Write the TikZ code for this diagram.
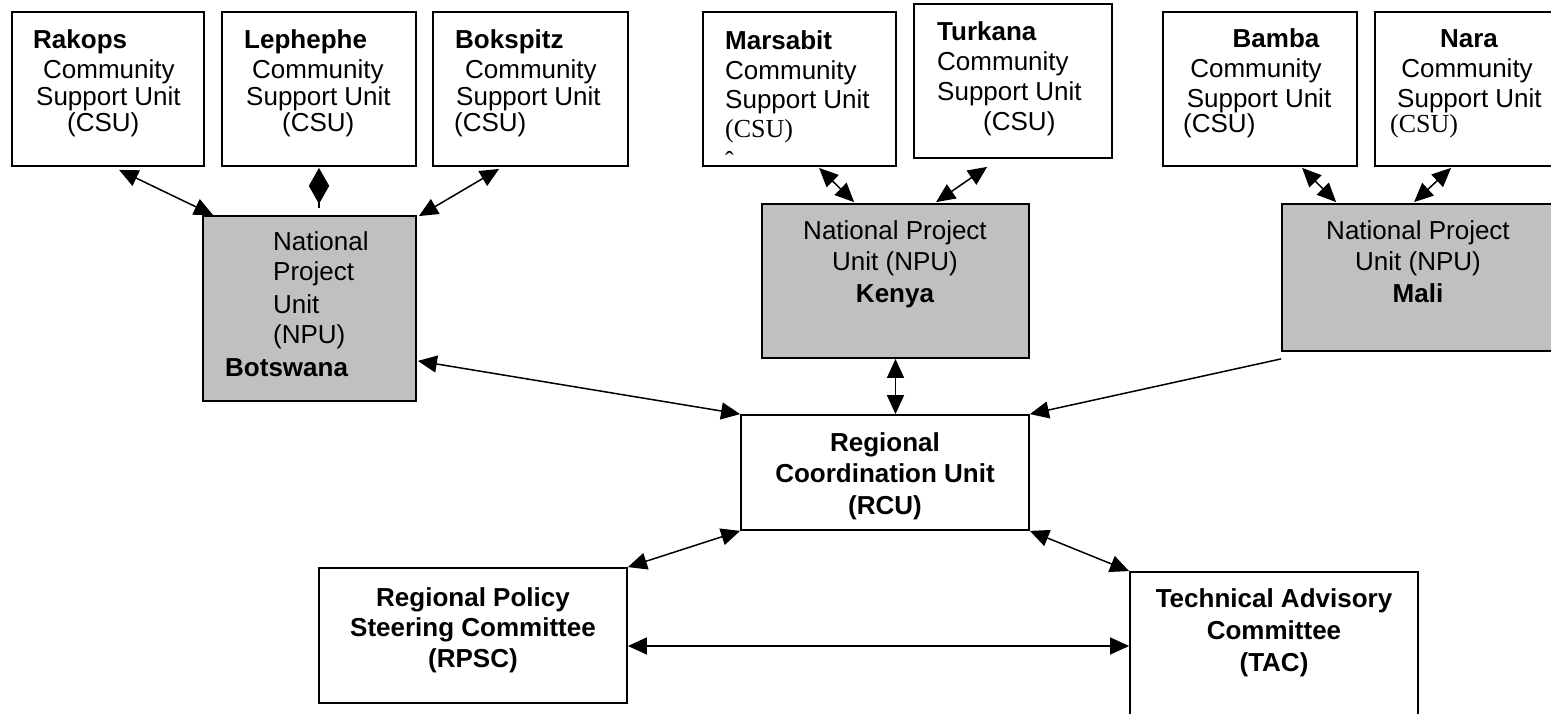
\documentclass[tikz,border=0pt]{standalone}
\usepackage{fontspec}
\setmainfont{Liberation Sans}
\newfontfamily\serifcsu{Liberation Serif}
\usetikzlibrary{arrows.meta,calc}
\definecolor{npugray}{HTML}{C0C0C0}
\begin{document}
\begin{tikzpicture}[x=1pt,y=-1pt,
  box/.style={draw,line width=1.8pt,inner sep=0pt},
  npu/.style={box,fill=npugray},
  lbl/.style={inner sep=0pt,anchor=base,font=\fontsize{26}{28}\selectfont},
  lblw/.style={lbl,anchor=base west},
  bl/.style={lbl,font=\fontsize{26}{28}\selectfont\bfseries},
  blw/.style={bl,anchor=base west},
  serw/.style={lblw,font=\fontsize{26}{28}\serifcsu},
  conn/.style={line width=1.5pt,{Triangle[length=19pt,width=17pt]}-{Triangle[length=19pt,width=17pt]}},
  diam/.style={line width=1.5pt,{Triangle[length=18pt,width=20pt]}-{Triangle[length=18pt,width=20pt]}},
  oneway/.style={line width=1.5pt,-{Triangle[length=19pt,width=17pt]}}
]
\useasboundingbox (0,0) rectangle (1551,714);
\clip (0,0) rectangle (1551,714);

% ---- CSU boxes ----
\node[box,minimum width=192pt,minimum height=154pt] (rak) at (108,89) {};
\node[box,minimum width=194pt,minimum height=154pt] (lep) at (319,89) {};
\node[box,minimum width=195pt,minimum height=154pt] (bok) at (530.5,89) {};
\node[box,minimum width=193pt,minimum height=154pt] (mar) at (799.5,89) {};
\node[box,minimum width=198pt,minimum height=154pt] (tur) at (1013,81) {};
\node[box,minimum width=194pt,minimum height=154pt] (bam) at (1260,89) {};
\node[box,minimum width=185pt,minimum height=154pt] (nar) at (1467.5,89) {};

% ---- NPU boxes ----
\node[npu,minimum width=213pt,minimum height=185pt] (bot) at (309.5,308.5) {};
\node[npu,minimum width=267pt,minimum height=154pt] (ken) at (895.5,281) {};
\node[npu,minimum width=271pt,minimum height=147pt] (mal) at (1417.5,277.5) {};

% ---- regional boxes ----
\node[box,minimum width=288pt,minimum height=115pt] (rcu) at (885,472.5) {};
\node[box,minimum width=308pt,minimum height=135pt] (rpsc) at (473,635.5) {};
\node[box,minimum width=288pt,minimum height=158pt] (tac) at (1274,651) {};

% ---- CSU texts ----
\node[blw] at (33,49) {Rakops};
\node[lblw] at (43,79) {Community};
\node[lblw] at (36,106) {Support Unit};
\node[lblw] at (67,132) {(CSU)};

\node[blw] at (244,49) {Lephephe};
\node[lblw] at (252,79) {Community};
\node[lblw] at (246,106) {Support Unit};
\node[lblw] at (282,132) {(CSU)};

\node[blw] at (455,49) {Bokspitz};
\node[lblw] at (465,79) {Community};
\node[lblw] at (456,106) {Support Unit};
\node[lblw] at (454,132) {(CSU)};

\node[blw] at (725,50) {Marsabit};
\node[lblw] at (725,80) {Community};
\node[lblw] at (725,109) {Support Unit};
\node[serw] at (725,138) {(CSU)};
\begin{scope}
  \clip (mar.north west) rectangle ($(mar.south east)+(0,-2)$);
  \node[serw] at (725,170) {ˆ};
\end{scope}

\node[blw] at (937,41) {Turkana};
\node[lblw] at (937,71) {Community};
\node[lblw] at (937,101) {Support Unit};
\node[lblw] at (983,131) {(CSU)};

\node[bl] at (1276,48) {Bamba};
\node[lbl] at (1256,78) {Community};
\node[lbl] at (1259,108) {Support Unit};
\node[lblw] at (1183,133) {(CSU)};

\node[bl] at (1469,48) {Nara};
\node[lbl] at (1467,78) {Community};
\node[lblw] at (1397,108) {Support Unit};
\node[serw] at (1390,133) {(CSU)};

% ---- NPU texts ----
\node[lblw] at (273,251) {National};
\node[lblw] at (273,281) {Project};
\node[lblw] at (273,313) {Unit};
\node[lblw] at (273,343) {(NPU)};
\node[blw] at (225,376) {Botswana};

\node[lbl] at (895,240) {National Project};
\node[lbl] at (895,271) {Unit (NPU)};
\node[bl] at (895,302) {Kenya};

\node[lbl] at (1418,240) {National Project};
\node[lbl] at (1418,271) {Unit (NPU)};
\node[bl] at (1418,302) {Mali};

% ---- regional texts ----
\node[bl] at (885,451) {Regional};
\node[bl] at (885,482) {Coordination Unit};
\node[bl] at (885,514) {(RCU)};

\node[bl] at (473,606) {Regional Policy};
\node[bl] at (473,636) {Steering Committee};
\node[bl] at (473,667) {(RPSC)};

\node[bl] at (1274,607) {Technical Advisory};
\node[bl] at (1274,639) {Committee};
\node[bl] at (1274,671) {(TAC)};

% ---- connectors ----
\draw[conn] ($(rak.south west)+(108,3)$) -- ($(bot.north west)+(11,0)$);
\draw[line width=1.5pt] ($(lep.south)+(0,30)$) -- ($(lep.south)+(0,41)$);
\draw[diam] ($(lep.south)+(0,1)$) -- ($(lep.south)+(0,37)$);
\draw[conn] ($(bok.south west)+(67,2)$) -- ($(bot.north east)+(2,1)$);
\draw[conn] ($(mar.south west)+(117,1)$) -- ($(ken.north west)+(93,-1)$);
\draw[conn] ($(tur.south west)+(74,8)$) -- ($(ken.north west)+(175,-1)$);
\draw[conn] ($(bam.south west)+(140,1)$) -- ($(mal.north west)+(55,-1)$);
\draw[conn] ($(nar.south west)+(77,1)$) -- ($(mal.north west)+(133,-1)$);
\draw[conn] ($(bot.south east)+(1,-41)$) -- (rcu.north west);
\draw[conn] (ken.south) -- (ken.south |- rcu.north);
\coordinate (malfree) at ($(mal.south west)+(0,7)$);
\draw[oneway] (malfree) -- (rcu.north east);
\draw[conn] (rcu.south west) -- (rpsc.north east);
\draw[conn] (rcu.south east) -- (tac.north west);
\coordinate (hl) at ($(rpsc.east)+(0,10.5)$);
\draw[conn] (hl) -- (hl -| tac.west);
\end{tikzpicture}
\end{document}
